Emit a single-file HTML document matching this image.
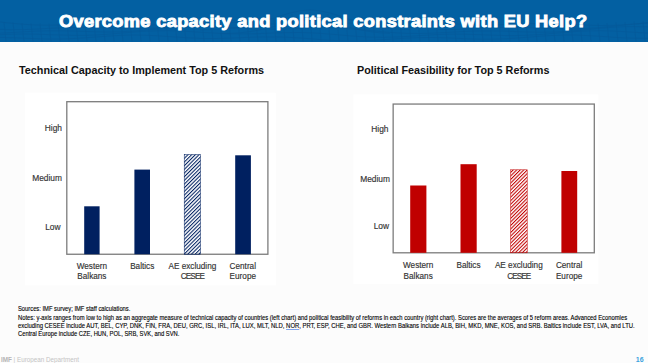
<!DOCTYPE html>
<html><head><meta charset="utf-8">
<style>
*{margin:0;padding:0;box-sizing:border-box}
html,body{width:648px;height:363px;overflow:hidden;background:#fcfcfc;font-family:"Liberation Sans",sans-serif;position:relative}
#hdr{position:absolute;left:0;top:0;width:648px;height:41.9px;background:#0360a2;overflow:hidden}
#title{position:absolute;left:59px;top:11.5px;font-size:16px;line-height:20px;font-weight:bold;color:#fff;letter-spacing:0.3px;-webkit-text-stroke:0.85px #fff;transform:scaleX(1.138);transform-origin:0 0;white-space:nowrap}
.ct{position:absolute;font-size:10.8px;font-weight:bold;color:#111;line-height:13px;white-space:nowrap}
svg{position:absolute;left:0;top:0}
.t{position:absolute;white-space:nowrap;color:#333;-webkit-text-stroke:0.15px #333}
.yl{font-size:8.4px;line-height:10px;text-align:right;width:40px}
.xl{font-size:8.2px;line-height:10px;text-align:center;width:60px}
.nl{position:absolute;left:18.3px;font-size:6.7px;line-height:8px;color:#000;-webkit-text-stroke:0.12px #000;white-space:nowrap;transform-origin:0 0}
#foot{position:absolute;left:1px;top:355px;font-size:6.3px;line-height:9px;color:#c4c4c4;white-space:nowrap}
#pg{position:absolute;left:635.8px;top:354.6px;font-size:7px;line-height:9px;color:#3ba3de;font-weight:bold}
</style></head>
<body>
<div id="hdr">
<svg width="648" height="42" fill="none" stroke="#084d8a" stroke-width="0.5" opacity="0.4"><path d="M0 22.0 L12 23.3 L24 24.3 L36 25.0 L48 25.2 L60 25.0 L72 24.6 L84 24.1 L96 23.7 L108 23.5 L120 23.7 L132 24.1 L144 24.6 L156 25.1 L168 25.3 L180 25.1 L192 24.5 L204 23.5 L216 22.2 L228 21.0 L240 19.9 L252 19.2 L264 18.9 L276 19.0 L288 19.5 L300 20.0 L312 20.4 L324 20.5 L336 20.3 L348 19.9 L360 19.4 L372 18.9 L384 18.6 L396 18.7 L408 19.3 L420 20.3 L432 21.6 L444 22.8 L456 23.9 L468 24.7 L480 25.0 L492 24.9 L504 24.5 L516 24.0 L528 23.6 L540 23.5 L552 23.6 L564 24.1 L576 24.7 L588 25.2 L600 25.5 L612 25.4 L624 24.8 L636 23.9 L648 22.7"/><path d="M0 29.4 L12 29.7 L24 29.6 L36 29.1 L48 28.4 L60 27.9 L72 27.5 L84 27.4 L96 27.7 L108 28.1 L120 28.5 L132 28.7 L144 28.6 L156 28.1 L168 27.1 L180 25.9 L192 24.6 L204 23.5 L216 22.7 L228 22.4 L240 22.5 L252 22.9 L264 23.5 L276 24.1 L288 24.5 L300 24.5 L312 24.3 L324 23.9 L336 23.4 L348 23.2 L360 23.3 L372 23.8 L384 24.7 L396 25.9 L408 27.2 L420 28.3 L432 29.1 L444 29.5 L456 29.4 L468 29.0 L480 28.5 L492 27.9 L504 27.5 L516 27.5 L528 27.7 L540 28.2 L552 28.6 L564 28.9 L576 28.9 L588 28.4 L600 27.5 L612 26.3 L624 25.1 L636 23.9 L648 23.0"/><path d="M0 33.2 L12 32.5 L24 31.8 L36 31.1 L48 30.8 L60 30.8 L72 31.0 L84 31.4 L96 31.8 L108 32.0 L120 31.8 L132 31.2 L144 30.3 L156 29.1 L168 28.0 L180 27.1 L192 26.5 L204 26.5 L216 26.8 L228 27.5 L240 28.2 L252 28.8 L264 29.2 L276 29.2 L288 28.9 L300 28.5 L312 28.1 L324 27.9 L336 28.0 L348 28.6 L360 29.6 L372 30.7 L384 31.9 L396 32.8 L408 33.4 L420 33.5 L432 33.2 L444 32.6 L456 31.9 L468 31.3 L480 30.9 L492 30.9 L504 31.1 L516 31.6 L528 32.0 L540 32.2 L552 32.1 L564 31.5 L576 30.6 L588 29.5 L600 28.3 L612 27.3 L624 26.7 L636 26.6 L648 26.8"/><path d="M0 34.7 L12 34.2 L24 34.0 L36 34.2 L48 34.6 L60 35.0 L72 35.3 L84 35.4 L96 35.0 L108 34.2 L120 33.2 L132 32.2 L144 31.3 L156 30.8 L168 30.7 L180 31.0 L192 31.7 L204 32.5 L216 33.2 L228 33.8 L240 33.9 L252 33.8 L264 33.4 L276 32.9 L288 32.6 L300 32.5 L312 32.9 L324 33.6 L336 34.6 L348 35.7 L360 36.6 L372 37.2 L384 37.3 L396 37.0 L408 36.4 L420 35.6 L432 34.8 L444 34.3 L456 34.1 L468 34.3 L480 34.7 L492 35.2 L504 35.5 L516 35.6 L528 35.2 L540 34.5 L552 33.5 L564 32.5 L576 31.5 L588 30.9 L600 30.7 L612 31.0 L624 31.6 L636 32.4 L648 33.1"/><path d="M0 37.4 L12 37.7 L24 38.2 L36 38.7 L48 39.0 L60 39.0 L72 38.6 L84 37.9 L96 37.0 L108 36.1 L120 35.4 L132 35.0 L144 35.2 L156 35.7 L168 36.5 L180 37.3 L192 38.0 L204 38.5 L216 38.5 L228 38.2 L240 37.7 L252 37.2 L264 36.9 L276 36.9 L288 37.3 L300 38.0 L312 38.9 L324 39.9 L336 40.6 L348 40.9 L360 40.9 L372 40.4 L384 39.6 L396 38.8 L408 38.0 L420 37.6 L432 37.5 L444 37.8 L456 38.3 L468 38.8 L480 39.2 L492 39.2 L504 38.8 L516 38.1 L528 37.2 L540 36.2 L552 35.5 L564 35.1 L576 35.1 L588 35.6 L600 36.3 L612 37.2 L624 37.9 L636 38.3 L648 38.4"/><path d="M200 29.8 L210 29.6 L220 29.2 L230 28.5 L240 27.2 L250 25.3 L260 22.6 L270 19.5 L280 16.0 L290 13.0 L300 10.8 L310 10.0 L320 10.8 L330 13.0 L340 16.0 L350 19.5 L360 22.6 L370 25.3 L380 27.2 L390 28.5 L400 29.2 L410 29.6"/><path d="M220 33.7 L230 33.4 L240 32.8 L250 31.6 L260 29.9 L270 27.6 L280 25.0 L290 22.5 L300 20.7 L310 20.0 L320 20.7 L330 22.5 L340 25.0 L350 27.6 L360 29.9 L370 31.6 L380 32.8 L390 33.4"/><path d="M4 22.2 L6 41.5 M13 22.6 L15 41.5 M22 23.0 L24 41.5 M31 23.4 L33 41.5 M40 23.7 L42 41.5 M49 23.9 L51 41.5 M58 24.0 L60 41.5 M67 24.0 L69 41.5 M76 23.9 L78 41.5 M85 23.7 L87 41.5 M94 23.4 L96 41.5 M103 23.1 L105 41.5 M112 22.7 L114 41.5 M121 22.2 L123 41.5 M130 21.8 L132 41.5 M139 21.3 L141 41.5 M148 20.9 L150 41.5 M157 20.6 L159 41.5 M166 20.3 L168 41.5 M175 20.1 L177 41.5 M184 20.0 L186 41.5 M193 20.0 L195 41.5 M202 20.1 L204 41.5 M211 20.3 L213 41.5 M220 20.6 L222 41.5 M229 20.9 L231 41.5 M238 21.3 L240 41.5 M247 21.8 L249 41.5 M256 22.2 L258 41.5 M265 22.0 L267 41.5 M274 19.3 L276 41.5 M283 16.6 L285 41.5 M292 14.2 L294 41.5 M301 12.6 L303 41.5 M310 12.0 L312 41.5 M319 12.6 L321 41.5 M328 14.2 L330 41.5 M337 16.6 L339 41.5 M346 19.3 L348 41.5 M355 22.0 L357 41.5 M364 22.6 L366 41.5 M373 22.2 L375 41.5 M382 21.8 L384 41.5 M391 21.3 L393 41.5 M400 20.9 L402 41.5 M409 20.6 L411 41.5 M418 20.3 L420 41.5 M427 20.1 L429 41.5 M436 20.0 L438 41.5 M445 20.0 L447 41.5 M454 20.1 L456 41.5 M463 20.3 L465 41.5 M472 20.6 L474 41.5 M481 21.0 L483 41.5 M490 21.4 L492 41.5 M499 21.8 L501 41.5 M508 22.3 L510 41.5 M517 22.7 L519 41.5 M526 23.1 L528 41.5 M535 23.4 L537 41.5 M544 23.7 L546 41.5 M553 23.9 L555 41.5 M562 24.0 L564 41.5 M571 24.0 L573 41.5 M580 23.9 L582 41.5 M589 23.7 L591 41.5 M598 23.4 L600 41.5 M607 23.0 L609 41.5 M616 22.6 L618 41.5 M625 22.2 L627 41.5 M634 21.7 L636 41.5 M643 21.3 L645 41.5"/></svg>
<div id="title">Overcome capacity and political constraints with EU Help?</div>
</div>

<div class="ct" style="left:19px;top:64px">Technical Capacity to Implement Top 5 Reforms</div>
<div class="ct" style="left:357px;top:64px">Political Feasibility for Top 5 Reforms</div>

<svg width="648" height="363">
<defs>
<pattern id="hb" patternUnits="userSpaceOnUse" width="2.6" height="2.6" patternTransform="rotate(45)">
<rect x="0" y="0" width="1.05" height="2.6" fill="#002060"/></pattern>
<pattern id="hr" patternUnits="userSpaceOnUse" width="2.5" height="2.5" patternTransform="rotate(45)">
<rect x="0" y="0" width="1.05" height="2.5" fill="#c00000"/></pattern>
</defs>
<rect x="25" y="92.7" width="250.8" height="192.7" fill="#fff"/>
<rect x="353.4" y="94.4" width="245" height="189.6" fill="#fff"/>
<!-- left chart -->
<rect x="66.8" y="101.7" width="201.1" height="152.55" fill="none" stroke="#7c7c7c" stroke-width="1.3"/>
<rect x="84.2" y="206.3" width="15.4" height="47.95" fill="#002060"/>
<rect x="134.4" y="169.6" width="15.6" height="84.65" fill="#002060"/>
<rect x="184.2" y="154.5" width="16.3" height="99.75" fill="url(#hb)" stroke="#002060" stroke-width="0.5"/>
<rect x="235.2" y="155.3" width="15.7" height="98.95" fill="#002060"/>
<!-- right chart -->
<rect x="393.15" y="104.06" width="201.15" height="148.74" fill="none" stroke="#7c7c7c" stroke-width="1.3"/>
<rect x="410.2" y="185.5" width="16.2" height="67.3" fill="#c00000"/>
<rect x="460.5" y="164.2" width="16.2" height="88.6" fill="#c00000"/>
<rect x="510.6" y="169.8" width="16.6" height="83" fill="url(#hr)" stroke="#c00000" stroke-width="0.5"/>
<rect x="561.4" y="171" width="15.8" height="81.8" fill="#c00000"/>
</svg>

<div class="t yl" style="left:22px;top:123px">High</div>
<div class="t yl" style="left:22px;top:173.2px">Medium</div>
<div class="t yl" style="left:20.5px;top:222.3px">Low</div>
<div class="t xl" style="left:61.9px;top:262px">Western<br>Balkans</div>
<div class="t xl" style="left:112.2px;top:262px">Baltics</div>
<div class="t xl" style="left:162.4px;top:262px">AE excluding<br><span style="letter-spacing:-0.9px">CESEE</span></div>
<div class="t xl" style="left:212.8px;top:262px">Central<br>Europe</div>

<div class="t yl" style="left:348.5px;top:123.5px">High</div>
<div class="t yl" style="left:350px;top:174.1px">Medium</div>
<div class="t yl" style="left:349px;top:221.1px">Low</div>
<div class="t xl" style="left:388.2px;top:261px;line-height:10.8px">Western<br>Balkans</div>
<div class="t xl" style="left:438.5px;top:261px">Baltics</div>
<div class="t xl" style="left:488.8px;top:261px;line-height:10.8px">AE excluding<br><span style="letter-spacing:-0.9px">CESEE</span></div>
<div class="t xl" style="left:539.1px;top:261px;line-height:10.8px">Central<br>Europe</div>

<div class="nl" style="top:305.1px;transform:scaleX(0.867)">Sources: IMF survey; IMF staff calculations.</div>
<div class="nl" style="top:313.5px;transform:scaleX(0.873)">Notes: y-axis ranges from low to high as an aggregate measure of technical capacity of countries (left chart) and political feasibility of reforms in each country (right chart). Scores are the averages of 5 reform areas. Advanced Economies</div>
<div class="nl" style="top:321.6px;transform:scaleX(0.883)">excluding CESEE include AUT, BEL, CYP, DNK, FIN, FRA, DEU, GRC, ISL, IRL, ITA, LUX, MLT, NLD, <span style="text-decoration:underline;text-decoration-color:#7fa4ec">NOR</span>, PRT, ESP, CHE, and GBR. Western Balkans include ALB, BIH, MKD, MNE, KOS, and SRB. Baltics include EST, LVA, and LTU.</div>
<div class="nl" style="top:330px;transform:scaleX(0.87)">Central Europe include CZE, HUN, POL, SRB, SVK, and SVN.</div>

<div id="foot"><b style="color:#b5b5b5">IMF</b> | European Department</div>
<div id="pg">16</div>
</body></html>
